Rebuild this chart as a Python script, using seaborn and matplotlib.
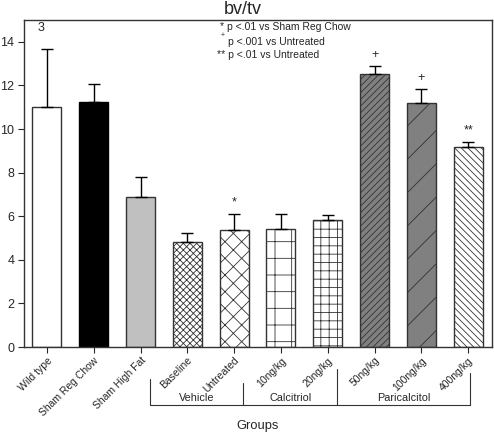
import seaborn as sns
import matplotlib.pyplot as plt
import pandas as pd
import numpy as np

# data
groups = ["Wild type", "Sham Reg Chow", "Sham High Fat", "Baseline", "Untreated",
          "10ng/kg", "20ng/kg", "50ng/kg", "100ng/kg", "400ng/kg"]
means = [11.0, 11.25, 6.9, 4.83, 5.35, 5.42, 5.82, 12.52, 11.18, 9.16]
errors = [2.65, 0.83, 0.91, 0.38, 0.74, 0.68, 0.25, 0.37, 0.64, 0.26]
fills = ["white", "black", "#c0c0c0", "white", "white", "white", "white",
         "#808080", "#808080", "white"]
hatches = [None, None, None, "xxxxx", "xx", "+", "++", "/////", "/", "\\\\\\\\\\"]

# significance marks above bars
marks = {"Untreated": "*", "50ng/kg": "+", "100ng/kg": "+", "400ng/kg": "**"}

# treatment brackets: (label, first group, last group)
brackets = [("Vehicle", "Baseline", "Untreated"),
            ("Calcitriol", "10ng/kg", "20ng/kg"),
            ("Paricalcitol", "50ng/kg", "400ng/kg")]

legend_lines = ["* p <.01 vs Sham Reg Chow",
                "p <.001 vs Untreated",
                "** p <.01 vs Untreated"]

df = pd.DataFrame({"group": groups, "bvtv": means, "sem": errors})

sns.set_style("ticks")
plt.rcParams["font.family"] = ["Liberation Sans", "DejaVu Sans"]
plt.rcParams["hatch.linewidth"] = 0.6

fig = plt.figure(figsize=(4.94, 4.32), dpi=100)
ax = fig.add_axes([24 / 494, 1 - 347 / 432, 468 / 494, 327 / 432])

# bars
sns.barplot(data=df, x="group", y="bvtv", hue="group", palette=fills,
            legend=False, width=0.62, errorbar=None, ax=ax, saturation=1)
for patch, h, c in zip(ax.patches, hatches, fills):
    patch.set_edgecolor("black" if c == "black" else "#333333")
    patch.set_linewidth(1.0)
    if h:
        patch.set_hatch(h)

# one-sided error bars
xs = np.arange(len(groups))
ax.errorbar(xs, df["bvtv"], yerr=[np.zeros(len(groups)), df["sem"]], fmt="none",
            ecolor="black", elinewidth=1, capsize=4.5, capthick=1)

# significance marks
for g, m in marks.items():
    i = groups.index(g)
    ax.text(i, means[i] + errors[i] + 0.25, m, ha="center", va="bottom", fontsize=9)

# axes
ax.set_xlim(-0.49, 9.51)
ax.set_ylim(0, 15)
ax.set_yticks(np.arange(0, 15, 2))
ax.tick_params(axis="y", labelsize=9, length=4, width=0.8, pad=3)
ax.tick_params(axis="x", labelsize=7.5, length=4, width=0.8, pad=2)
ax.set_xticks(xs)
ax.set_xticklabels(groups, rotation=45, ha="right", rotation_mode="anchor")
ax.set_xlabel("")
ax.set_ylabel("")
for s in ax.spines.values():
    s.set_color("#333333")
    s.set_linewidth(1.0)

# panel number and legend text
ax.text(0.03, 0.975, "3", transform=ax.transAxes, va="center", fontsize=9)
ax.text(3.7, 14.68, legend_lines[0], fontsize=7.5, va="center")
ax.text(3.72, 14.3, "+", fontsize=5, va="center")
ax.text(3.87, 14.0, legend_lines[1], fontsize=7.5, va="center")
ax.text(3.64, 13.4, legend_lines[2], fontsize=7.5, va="center")

# treatment brackets under the axis
trans = ax.get_xaxis_transform()
y_line = -0.177
left_tops = [-0.098, -0.11, -0.067]
starts = [groups.index(g0) - 0.8 for _, g0, _ in brackets]
ends = starts[1:] + [groups.index(brackets[-1][2]) + 0.04]
for (label, g0, g1), x0, x1, top in zip(brackets, starts, ends, left_tops):
    ax.plot([x0, x0], [y_line, top], color="#333333", lw=0.8, transform=trans, clip_on=False)
    ax.plot([x0, x1], [y_line, y_line], color="#333333", lw=0.8, transform=trans, clip_on=False)
    ax.text((x0 + x1) / 2, -0.155, label, transform=trans, ha="center", va="center", fontsize=7.8)
ax.plot([ends[-1], ends[-1]], [y_line, -0.08], color="#333333", lw=0.8, transform=trans, clip_on=False)

# title and axis label
fig.text(243 / 494, 1 - 10 / 432, "bv/tv", ha="center", va="center", fontsize=13)
fig.text(258 / 494, 1 - 426 / 432, "Groups", ha="center", va="center", fontsize=9.3)

plt.savefig("out.png", dpi=100)
